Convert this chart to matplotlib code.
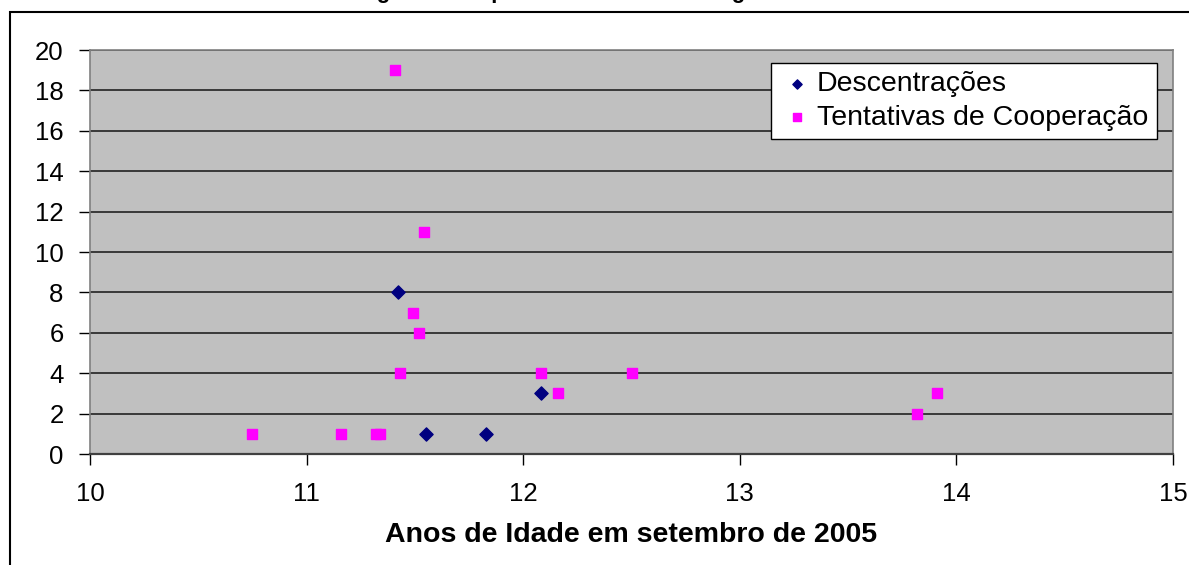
import matplotlib.pyplot as plt
from matplotlib.patches import Rectangle

plt.rcParams["font.family"] = ["Liberation Sans", "DejaVu Sans"]

# idade (anos) e numero de condutas
desc_x = [11.42, 11.55, 11.83, 12.08]
desc_y = [8, 1, 1, 3]

coop_x = [11.41, 11.54, 11.49, 11.52, 11.43, 12.08, 12.16, 12.50, 13.82, 13.91,
          10.75, 11.16, 11.32, 11.34]
coop_y = [19, 11, 7, 6, 4, 4, 3, 4, 2, 3, 1, 1, 1, 1]

x_ticks = [10, 11, 12, 13, 14, 15]
y_ticks = list(range(0, 21, 2))

fig = plt.figure(figsize=(11.89, 5.65), dpi=100)
W, H = 1189, 565

# moldura externa do grafico (cortada a direita e em baixo)
fig.patches.append(Rectangle((10 / W, -0.1), 1.2, (565 - 12) / H + 0.1,
                             transform=fig.transFigure, fill=False,
                             edgecolor="black", linewidth=1.5))

# titulo cortado no topo
fig.text(0.51, 1 - 3 / H, "Figura 4: Dispersão das condutas egocêntricas",
         ha="center", va="bottom", fontsize=16, fontweight="bold")

ax = fig.add_axes([90 / W, 111 / H, (1173 - 90) / W, (454 - 50) / H])
ax.set_facecolor("#c0c0c0")
ax.set_xlim(10, 15)
ax.set_ylim(0, 20)
ax.set_xticks(x_ticks)
ax.set_yticks(y_ticks)
ax.grid(True, axis="y", color="#222222", linewidth=1.2)
ax.set_axisbelow(True)
for s in ax.spines.values():
    s.set_color("#808080")
    s.set_linewidth(1.2)
ax.spines["bottom"].set_color("#404040")
ax.spines["bottom"].set_linewidth(1.6)
ax.tick_params(direction="out", length=8, width=1, color="black",
               labelsize=18.5)
ax.tick_params(axis="x", pad=12)
ax.tick_params(axis="y", pad=11)

ax.scatter(desc_x, desc_y, marker="D", s=45, color="#000080",
           label="Descentrações", zorder=3)
ax.scatter(coop_x, coop_y, marker="s", s=60, color="#ff00ff",
           label="Tentativas de Cooperação", zorder=3)

ax.set_xlabel("Anos de Idade em setembro de 2005", fontsize=20.5,
              fontweight="bold", labelpad=12)

leg = ax.legend(loc="upper right", bbox_to_anchor=(0.985, 0.968), fontsize=20.5,
                frameon=True, fancybox=False, edgecolor="black",
                framealpha=1, borderpad=0.3, handletextpad=0.1,
                handlelength=1.2, labelspacing=0.25, markerscale=0.7,
                borderaxespad=0)
leg.get_frame().set_linewidth(1)

fig.savefig("out.png", dpi=100)
